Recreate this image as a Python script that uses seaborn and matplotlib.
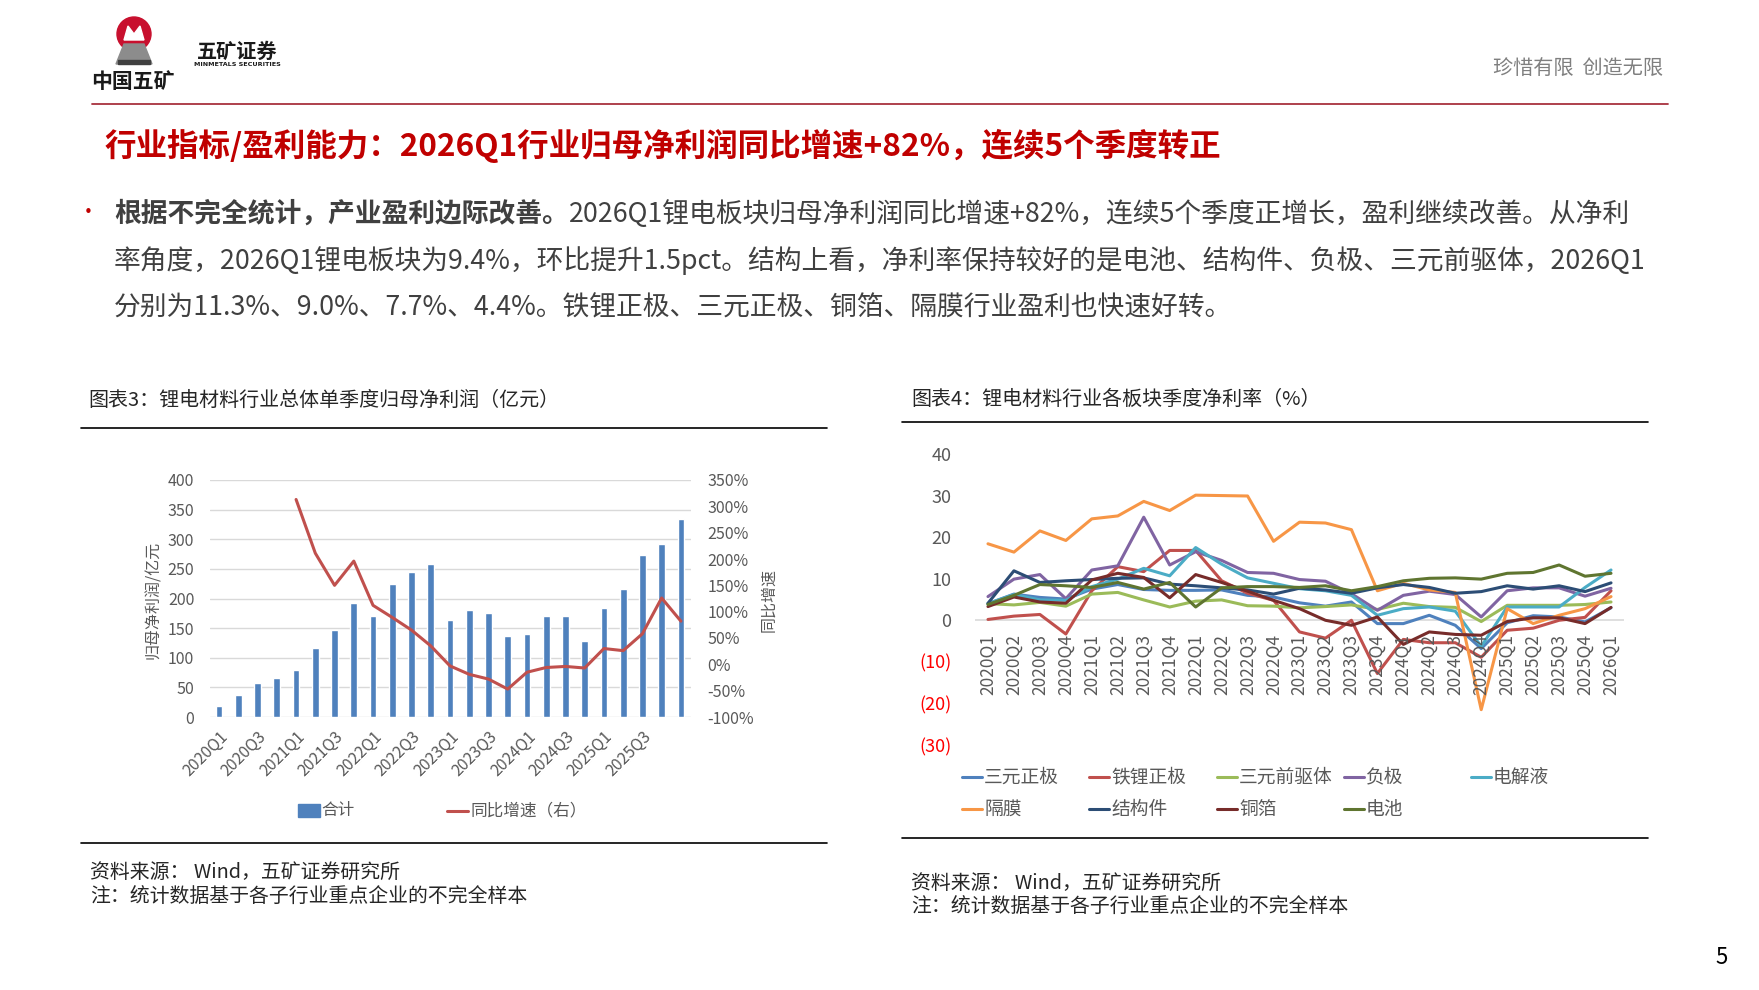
import matplotlib
matplotlib.use("Agg")
import matplotlib.pyplot as plt
from matplotlib.lines import Line2D
from matplotlib.patches import Circle, Polygon, Rectangle
import numpy as np
import pandas as pd
import seaborn as sns

# ---------------------------------------------------------------
# DATA
# ---------------------------------------------------------------
quarters = ["2020Q1", "2020Q2", "2020Q3", "2020Q4",
            "2021Q1", "2021Q2", "2021Q3", "2021Q4",
            "2022Q1", "2022Q2", "2022Q3", "2022Q4",
            "2023Q1", "2023Q2", "2023Q3", "2023Q4",
            "2024Q1", "2024Q2", "2024Q3", "2024Q4",
            "2025Q1", "2025Q2", "2025Q3", "2025Q4",
            "2026Q1"]

# chart 3: total quarterly net profit (100m yuan) and yoy growth (%, from 2021Q1)
profit = [19, 37, 58, 65, 80, 116, 147, 193, 171, 224, 245, 258, 164,
          180, 176, 137, 140, 170, 170, 128, 184, 216, 273, 292, 335]
growth_quarters = quarters[4:]
growth = [313, 211, 150, 196, 112, 89, 65, 35, -3, -19, -28, -47,
          -15, -6, -4, -7, 30, 26, 58, 126, 82]

# chart 4: net margin by segment (%)
ncm = [4.0, 6.3, 5.5, 5.1, 7.5, 8.6, 7.4, 7.2, 7.2, 7.3, 6.0, 5.6, 4.2,
       3.4, 4.4, -0.8, -0.8, 1.2, -1.2, -6.8, -0.6, 1.1, 0.8, -0.4, 3.0]
lfp = [0.2, 1.0, 1.4, -3.3, 7.1, 12.9, 11.7, 16.8, 16.8, 9.5, 6.5, 4.8, -2.8,
       -4.3, 0.0, -12.8, -4.6, -5.4, -5.4, -8.9, -2.4, -1.9, 0.0, 0.7, 7.1]
precursor = [4.0, 3.7, 4.3, 3.4, 6.3, 6.7, 4.9, 3.2, 4.6, 4.9, 3.5, 3.4, 3.0,
             3.3, 3.7, 2.6, 4.1, 3.3, 3.1, -0.3, 3.6, 3.6, 3.6, 3.8, 4.4]
anode = [5.7, 9.9, 11.0, 5.2, 12.1, 13.1, 24.8, 13.3, 16.5, 14.4, 11.5, 11.3, 9.8,
         9.4, 6.4, 2.4, 6.0, 7.0, 6.2, 0.8, 7.1, 7.8, 7.8, 5.8, 7.7]
electrolyte = [4.0, 6.2, 4.9, 4.8, 8.1, 9.9, 12.5, 10.7, 17.5, 13.5, 10.2, 8.9, 7.6,
               7.1, 6.0, 1.2, 2.8, 3.2, 2.2, -6.3, 3.2, 3.2, 3.2, 7.9, 12.1]
separator = [18.4, 16.4, 21.5, 19.2, 24.4, 25.1, 28.6, 26.4, 30.1, 30.0, 29.9, 19.0, 23.6,
             23.4, 21.8, 7.1, 8.9, 7.3, 6.7, -21.5, 2.8, -0.8, 1.2, 2.8, 5.7]
structural = [4.1, 11.9, 9.1, 9.5, 9.8, 10.1, 10.2, 8.7, 8.3, 7.8, 7.3, 6.3, 7.7,
              7.3, 6.5, 7.8, 8.6, 7.9, 6.5, 6.9, 8.3, 7.5, 8.3, 6.9, 9.0]
copper_foil = [3.3, 5.6, 4.4, 4.1, 9.7, 11.3, 10.3, 5.4, 11.0, 9.1, 7.0, 4.8, 2.8,
               0.0, -1.2, 0.8, -5.8, -2.8, -3.4, -3.6, -0.3, 0.6, 0.6, -0.8, 3.1]
battery = [3.8, 6.0, 8.6, 8.3, 7.9, 9.1, 7.5, 9.1, 3.2, 7.8, 8.1, 8.1, 7.9,
           8.3, 7.1, 8.1, 9.5, 10.1, 10.2, 9.9, 11.3, 11.5, 13.3, 10.6, 11.3]

segment_names = ["三元正极", "铁锂正极", "三元前驱体", "负极", "电解液",
                 "隔膜", "结构件", "铜箔", "电池"]
segment_values = [ncm, lfp, precursor, anode, electrolyte,
                  separator, structural, copper_foil, battery]
segment_colors = ["#4F81BD", "#C0504D", "#9BBB59", "#8064A2", "#4BACC6",
                  "#F79646", "#2C4D75", "#772C2A", "#5F7530"]

margin_ticks = [-30, -20, -10, 0, 10, 20, 30, 40]
profit_ticks = list(range(0, 401, 50))
growth_ticks = list(range(-100, 351, 50))

# ---------------------------------------------------------------
# STYLE
# ---------------------------------------------------------------
sns.set_theme(style="white")
plt.rcParams["font.family"] = ["Noto Sans CJK SC", "DejaVu Sans"]
plt.rcParams["axes.unicode_minus"] = False

W, H = 1759, 990
GRAY = "#595959"
NOTE = "#262626"


def fx(x):
    return x / W


def fy(y):
    return 1 - y / H


def box(x0, y0, x1, y1):
    return [x0 / W, 1 - y1 / H, (x1 - x0) / W, (y1 - y0) / H]


def hline(x0, x1, y, color="black", lw=1.2):
    fig.add_artist(Line2D([fx(x0), fx(x1)], [fy(y), fy(y)], color=color, lw=lw))


fig = plt.figure(figsize=(W / 100, H / 100), dpi=100)
fig.patch.set_facecolor("white")

# ---------------------------------------------------------------
# HEADER
# ---------------------------------------------------------------
logo = fig.add_axes(box(112, 14, 156, 66))
logo.set_xlim(0, 44)
logo.set_ylim(52, 0)
logo.axis("off")
logo.add_patch(Circle((22, 20), 17, color="#C8102E"))
logo.add_patch(Polygon([[12, 26], [16, 12], [22, 20], [28, 12], [32, 26]], color="white"))
logo.add_patch(Polygon([[4, 50], [40, 50], [32, 30], [12, 30]], color="#8C8C8C"))
logo.add_patch(Rectangle((6, 46), 32, 4, color="#404040"))

fig.text(fx(133), fy(81), "中国五矿", fontsize=15, weight="bold", color="#1a1a1a",
         ha="center", va="center")
fig.text(fx(237), fy(51), "五矿证券", fontsize=14.5, weight="bold", color="#1a1a1a",
         ha="center", va="center")
fig.text(fx(237), fy(65), "MINMETALS SECURITIES", fontsize=4.6, weight="bold",
         color="#1a1a1a", ha="center", va="center", family="DejaVu Sans")
fig.text(fx(1663), fy(68), "珍惜有限  创造无限", fontsize=14.5, color="#7F7F7F",
         ha="right", va="center")
hline(92, 1668, 104, color="#A8323E", lw=1.3)

fig.text(fx(105), fy(146), "行业指标/盈利能力：2026Q1行业归母净利润同比增速+82%，连续5个季度转正",
         fontsize=22.7, weight="bold", color="#C00000", ha="left", va="center")

# body text
fig.text(fx(88), fy(213), "•", fontsize=15, color="#C00000", ha="center", va="center")
body_color = "#404040"
body_size = 19.3
fig.canvas.draw()
renderer = fig.canvas.get_renderer()
bold_part = fig.text(fx(114), fy(214), "根据不完全统计，产业盈利边际改善。",
                     fontsize=body_size, weight="bold", color=body_color,
                     ha="left", va="center")
bb = bold_part.get_window_extent(renderer=renderer)
fig.text(bb.x1 / W, fy(214),
         "2026Q1锂电板块归母净利润同比增速+82%，连续5个季度正增长，盈利继续改善。从净利",
         fontsize=body_size, color=body_color, ha="left", va="center")
fig.text(fx(114), fy(261),
         "率角度，2026Q1锂电板块为9.4%，环比提升1.5pct。结构上看，净利率保持较好的是电池、结构件、负极、三元前驱体，2026Q1",
         fontsize=body_size, color=body_color, ha="left", va="center")
fig.text(fx(114), fy(308),
         "分别为11.3%、9.0%、7.7%、4.4%。铁锂正极、三元正极、铜箔、隔膜行业盈利也快速好转。",
         fontsize=body_size, color=body_color, ha="left", va="center")

# ---------------------------------------------------------------
# CHART 3 (left): bars + yoy line
# ---------------------------------------------------------------
fig.text(fx(88), fy(400), "图表3：锂电材料行业总体单季度归母净利润（亿元）",
         fontsize=14.4, color=NOTE, ha="left", va="center")
hline(81, 827, 428)
hline(81, 827, 843)

ax = fig.add_axes(box(209.5, 480, 690.5, 717))
sns.barplot(x=quarters, y=profit, ax=ax, color="#4F81BD", saturation=1,
            width=0.35, order=quarters)
ax.set_xlim(-0.5, len(quarters) - 0.5)
ax.set_ylim(0, 400)
ax.set_yticks(profit_ticks)
ax.set_yticklabels([str(v) for v in profit_ticks], fontsize=11.5, color=GRAY)
ax.yaxis.grid(True, color="#D9D9D9", lw=1)
ax.set_axisbelow(True)
ax.set_xticks(range(0, len(quarters) - 1, 2))
ax.set_xticklabels(quarters[0:len(quarters) - 1:2], rotation=45, ha="right",
                   rotation_mode="anchor", fontsize=11.5, color=GRAY)
ax.tick_params(axis="y", length=0, pad=11)
ax.tick_params(axis="x", length=0, pad=8)
ax.set_xlabel("")
ax.set_ylabel("")
for s in ax.spines.values():
    s.set_visible(False)

ax2 = ax.twinx()
growth_pos = [quarters.index(q) for q in growth_quarters]
sns.lineplot(x=growth_pos, y=growth, ax=ax2, color="#C0504D", lw=2.2)
ax2.set_ylim(-100, 350)
ax2.set_yticks(growth_ticks)
ax2.set_yticklabels([f"{v}%" for v in growth_ticks], fontsize=11.5, color=GRAY)
ax2.tick_params(axis="y", length=0, pad=12)
ax2.set_ylabel("")
for s in ax2.spines.values():
    s.set_visible(False)
ax.set_xlim(-0.5, len(quarters) - 0.5)

fig.text(fx(154), fy(600), "归母净利润/亿元", fontsize=11.5, color=GRAY, rotation=90,
         ha="center", va="center")
fig.text(fx(769), fy(600), "同比增速", fontsize=11.5, color=GRAY, rotation=90,
         ha="center", va="center")

# legend
fig.add_artist(Rectangle((fx(298), fy(817)), 22 / W, 13 / H, color="#4F81BD"))
fig.text(fx(321), fy(811), "合计", fontsize=12, color=GRAY, ha="left", va="center")
fig.add_artist(Line2D([fx(447), fx(468)], [fy(811), fy(811)], color="#C0504D", lw=2.2))
fig.text(fx(471), fy(811), "同比增速（右）", fontsize=12, color=GRAY, ha="left", va="center")

fig.text(fx(90), fy(872), "资料来源： Wind，五矿证券研究所", fontsize=14.3, color=NOTE,
         ha="left", va="center")
fig.text(fx(90), fy(897), "注：统计数据基于各子行业重点企业的不完全样本", fontsize=14.3,
         color=NOTE, ha="left", va="center")

# ---------------------------------------------------------------
# CHART 4 (right): segment margins
# ---------------------------------------------------------------
fig.text(fx(911), fy(399), "图表4：锂电材料行业各板块季度净利率（%）",
         fontsize=14.4, color=NOTE, ha="left", va="center")
hline(902, 1648, 422)
hline(902, 1648, 838)

margins = pd.DataFrame({
    "idx": list(range(len(quarters))) * len(segment_names),
    "板块": [n for n in segment_names for _ in quarters],
    "净利率": [v for vals in segment_values for v in vals],
})

ax3 = fig.add_axes(box(975, 454, 1624, 745))
ax3.axhline(0, color="#D9D9D9", lw=1.2, zorder=0)
sns.lineplot(data=margins, x="idx", y="净利率", hue="板块", hue_order=segment_names,
             palette=dict(zip(segment_names, segment_colors)), lw=2.2,
             legend=False, sort=False, ax=ax3)
ax3.set_xlim(-0.5, len(quarters) - 0.5)
ax3.set_ylim(-30, 40)
ax3.set_yticks(margin_ticks)
ax3.set_yticklabels([f"({-v})" if v < 0 else str(v) for v in margin_ticks], fontsize=13)
for lab, v in zip(ax3.get_yticklabels(), margin_ticks):
    lab.set_color("#FF0000" if v < 0 else GRAY)
ax3.set_xticks([])
ax3.tick_params(axis="y", length=0, pad=17)
ax3.set_xlabel("")
ax3.set_ylabel("")
for s in ax3.spines.values():
    s.set_visible(False)
for i, q in enumerate(quarters):
    ax3.annotate(q, xy=(i, 0), xytext=(0, -10), textcoords="offset points",
                 rotation=90, ha="center", va="top", fontsize=12.5, color=GRAY,
                 annotation_clip=False)

# legend: 5 equal columns, row-major like the source
col_x = [962, 1089, 1217, 1344, 1471]
row_y = [777, 809]
for k, (name, color) in enumerate(zip(segment_names, segment_colors)):
    x0 = col_x[k % 5]
    y0 = row_y[k // 5]
    fig.add_artist(Line2D([fx(x0), fx(x0 + 20)], [fy(y0), fy(y0)], color=color, lw=2.2))
    fig.text(fx(x0 + 22), fy(y0), name, fontsize=13.5, color=GRAY, ha="left", va="center")

fig.text(fx(911), fy(883), "资料来源： Wind，五矿证券研究所", fontsize=14.3, color=NOTE,
         ha="left", va="center")
fig.text(fx(911), fy(907), "注：统计数据基于各子行业重点企业的不完全样本", fontsize=14.3,
         color=NOTE, ha="left", va="center")

fig.text(fx(1722), fy(958), "5", fontsize=16, color="black", ha="center", va="center")

fig.savefig("out.png", dpi=100, facecolor="white")
